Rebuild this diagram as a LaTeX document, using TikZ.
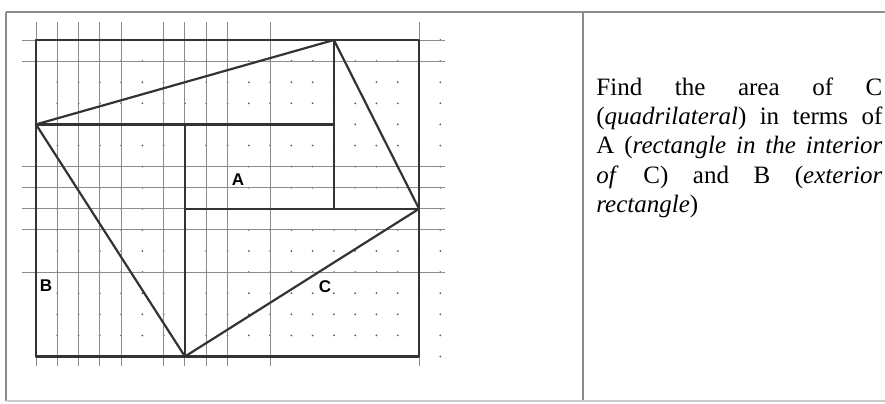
\documentclass[tikz,border=0pt]{standalone}
\usepackage{fontspec}
\setmainfont{Liberation Serif}
\setsansfont{Liberation Sans}
\begin{document}
\begin{tikzpicture}[x=0.5pt,y=-0.5pt,
  frameline/.style={line width=0.6pt, black!45},
  gridline/.style={line width=0.5pt, black!45},
  gridpoint/.style={black!65},
  heavy/.style={line width=1.1pt, black!80, line join=round},
  letter/.style={font=\sffamily\bfseries\fontsize{8.5}{9}\selectfont, inner sep=0pt}]
\useasboundingbox (0,0) rectangle (885,403);
\draw[frameline] (6,12) -- (885,12);
\draw[frameline] (6,12) -- (6,401);
\draw[frameline] (583,12) -- (583,401);
\draw[frameline, black!20] (6,401) -- (885,401);
\begin{scope}[shift={(36,40)}, x=10.64pt, y=-10.55pt]
\foreach \i in {0,...,19} \foreach \j in {0,...,15} \fill[gridpoint] (\i,\j) circle[radius=0.5pt];
\foreach \i in {0,1,2,3,4,6,7,8,9,11,18} \draw[gridline] (\i,-0.85) -- (\i,15.45);
\foreach \j in {0,1,6,7,8,9,11} \draw[gridline] (-0.66,\j) -- (19.2,\j);
\coordinate (top) at (14,0);
\coordinate (left) at (0,4);
\coordinate (bottom) at (7,15);
\coordinate (right) at (18,8);
\draw[heavy] (0,0) rectangle (18,15);
\draw[heavy] (left) -- (14,4);
\draw[heavy] (top) -- (14,8);
\draw[heavy] (right) -- (7,8);
\draw[heavy] (bottom) -- (7,4);
\draw[heavy] (top) -- (left) -- (bottom) -- (right) -- cycle;
\end{scope}
\node[letter] (labA) at (238,180) {A};
\node[letter] (labB) at (46,286) {B};
\node[letter] (labC) at (325,287) {C};
\node[anchor=north west, inner sep=0pt, text width=143pt, align=justify, font=\fontsize{12.5}{14.7}\selectfont] (task) at (596,77)
  {Find the area of C\linebreak (\textit{quadrilateral}) in terms of\linebreak A (\textit{rectangle in the interior}\linebreak \textit{of} C) and B (\textit{exterior}\linebreak \textit{rectangle})};
\end{tikzpicture}
\end{document}
